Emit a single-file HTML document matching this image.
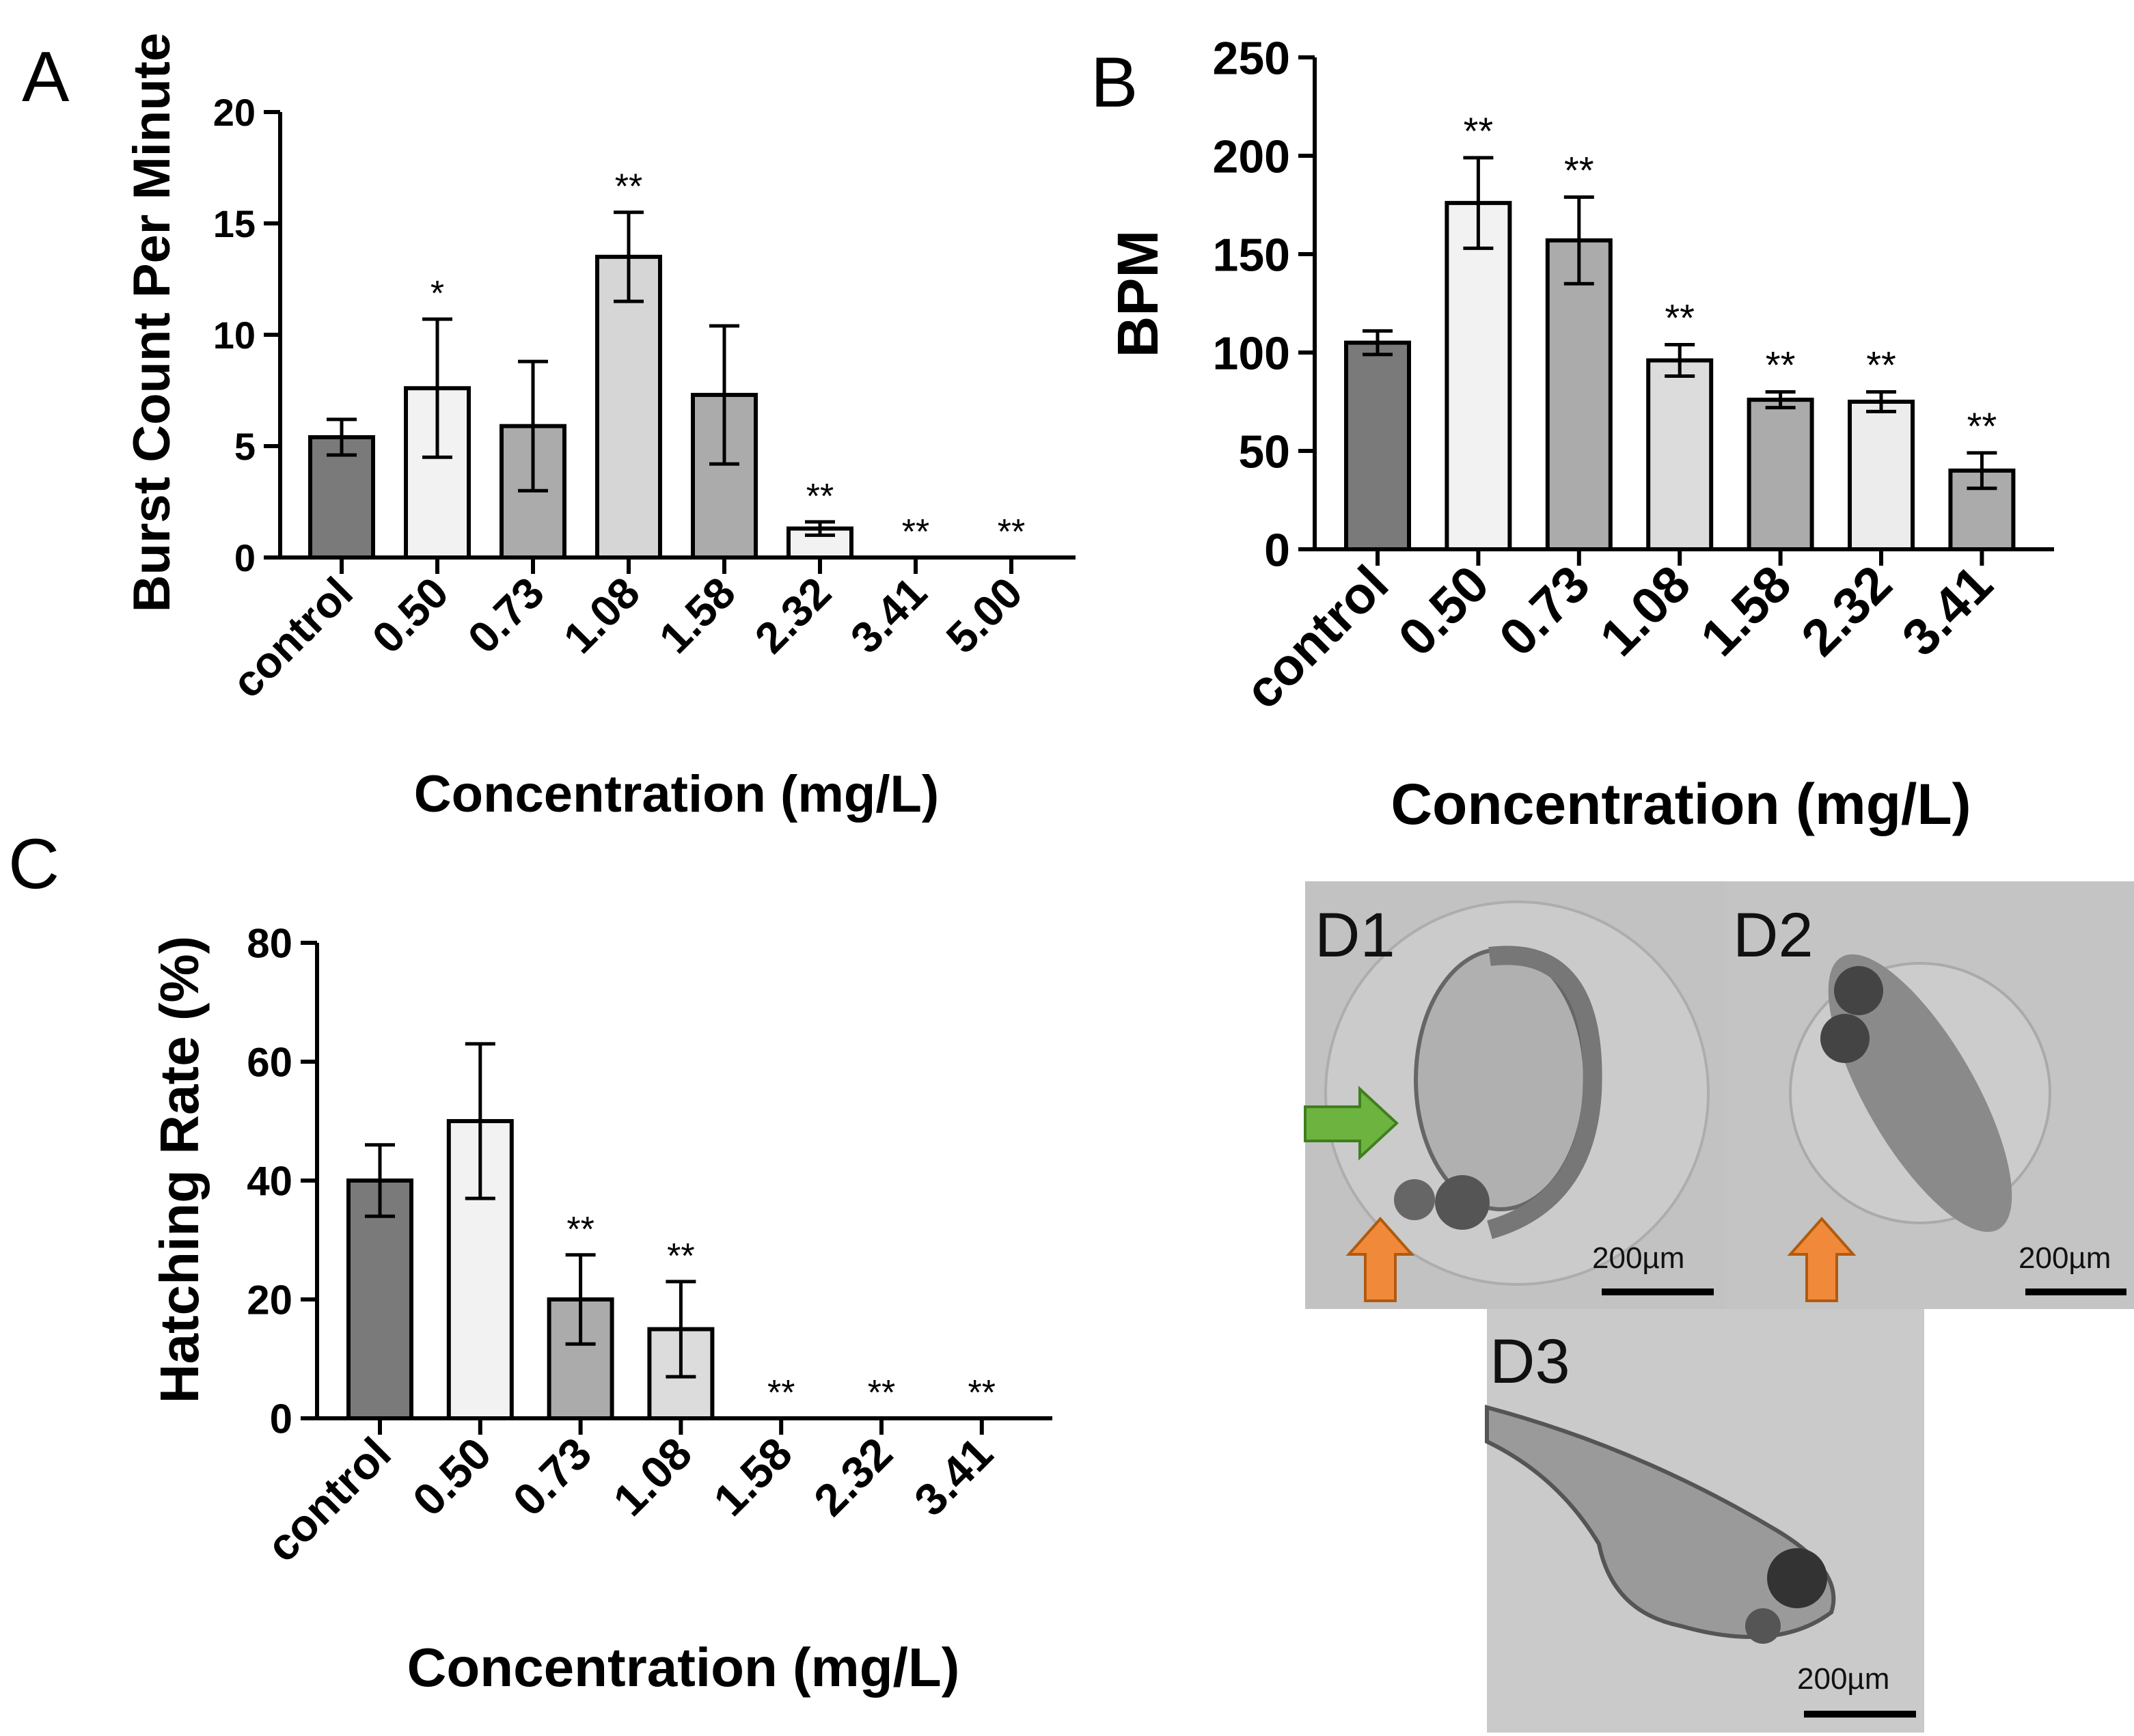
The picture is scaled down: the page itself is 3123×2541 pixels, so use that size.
<!DOCTYPE html>
<html><head><meta charset="utf-8"><style>
html,body{margin:0;padding:0;background:#fff}
svg{display:block;font-family:"Liberation Sans",Arial,sans-serif}
</style></head><body>
<svg id="fig" width="3123" height="2541" viewBox="0 0 1561.5 1270.5" xmlns="http://www.w3.org/2000/svg">
<rect width="1561.5" height="1270.5" fill="#fff"/>
<g id="pA"></g>
<g id="pB"></g>
<g id="pC"></g>
<g id="pD">
  <rect x="955" y="645" width="307" height="313" fill="#c2c2c2"/>
  <circle cx="1110" cy="800" r="140" fill="#cbcbcb" stroke="#adadad" stroke-width="2"/>
  <ellipse cx="1098" cy="790" rx="62" ry="95" fill="#b0b0b0" stroke="#666" stroke-width="3"/>
  <path d="M1090 700 Q1170 690 1165 800 Q1160 880 1090 900" fill="none" stroke="#777" stroke-width="14"/>
  <circle cx="1070" cy="880" r="20" fill="#555"/><circle cx="1035" cy="878" r="15" fill="#666"/>
  <rect x="1262" y="645" width="300" height="313" fill="#c4c4c4"/>
  <circle cx="1405" cy="800" r="95" fill="#cccccc" stroke="#aaa" stroke-width="2"/>
  <ellipse cx="1405" cy="800" rx="40" ry="115" fill="#8a8a8a" transform="rotate(-30 1405 800)"/>
  <circle cx="1360" cy="725" r="18" fill="#444"/><circle cx="1350" cy="760" r="18" fill="#444"/>
  <rect x="1088" y="958" width="320" height="310" fill="#cacaca"/>
  <path d="M1088 1030 Q1200 1060 1300 1120 Q1350 1150 1340 1180 Q1300 1210 1230 1190 Q1180 1180 1170 1130 Q1140 1080 1088 1055Z" fill="#9a9a9a" stroke="#555" stroke-width="3"/>
  <circle cx="1315" cy="1155" r="22" fill="#333"/><circle cx="1290" cy="1190" r="13" fill="#555"/>
  <polygon points="955,810 995,810 995,797 1022,822 995,847 995,835 955,835" fill="#6db33f" stroke="#3f7f1f" stroke-width="2"/>
  <polygon points="1010,892 1033,918 1021,918 1021,952 999,952 999,918 987,918" fill="#f08a3a" stroke="#b05a10" stroke-width="2"/>
  <polygon points="1333,892 1356,918 1344,918 1344,952 1322,952 1322,918 1310,918" fill="#f08a3a" stroke="#b05a10" stroke-width="2"/>
  <g font-size="46" fill="#111">
    <text x="962" y="700">D1</text>
    <text x="1268" y="700">D2</text>
    <text x="1090" y="1012">D3</text>
  </g>
  <g font-size="22" fill="#111">
    <text x="1165" y="928">200µm</text>
    <text x="1477" y="928">200µm</text>
    <text x="1315" y="1236">200µm</text>
  </g>
  <rect x="1172" y="943" width="82" height="5" fill="#000"/>
  <rect x="1482" y="943" width="74" height="5" fill="#000"/>
  <rect x="1320" y="1252" width="82" height="5" fill="#000"/>
</g>
</svg>
<script>
const catsA=['control','0.50','0.73','1.08','1.58','2.32','3.41','5.00'];
const valsA=[5.4,7.6,5.9,13.5,7.3,1.3,0,0];
const errsA=[0.8,3.1,2.9,2.0,3.1,0.3,0,0];
const starsA=['','*','','**','','**','**','**'];
const ticksA=[0,5,10,15,20];
const catsB=['control','0.50','0.73','1.08','1.58','2.32','3.41'];
const valsB=[105,176,157,96,76,75,40];
const errsB=[6,23,22,8,4,5,9];
const starsB=['','**','**','**','**','**','**'];
const ticksB=[0,50,100,150,200,250];
const catsC=['control','0.50','0.73','1.08','1.58','2.32','3.41'];
const valsC=[40,50,20,15,0,0,0];
const errsC=[6,13,7.5,8,0,0,0];
const starsC=['','','**','**','**','**','**'];
const ticksC=[0,20,40,60,80];

const NS='http://www.w3.org/2000/svg';
function mk(p,tag,attrs,txt){const e=document.createElementNS(NS,tag);for(const k in attrs)e.setAttribute(k,attrs[k]);if(txt!==undefined)e.textContent=txt;p.appendChild(e);return e;}
function chart(g,o){
  const y=v=>o.y0-(v-o.min)/(o.max-o.min)*(o.y0-o.y1);
  const x=i=>o.xs+i*o.step;
  o.vals.forEach((v,i)=>{
    const cx=x(i);
    if(v>0){const r=mk(g,'rect',{x:cx-o.bw/2,y:y(v),width:o.bw,height:o.y0-y(v),fill:o.colors[i%o.colors.length],stroke:'#000','stroke-width':3});
      
      }
    if(o.errs[i]>0){const eg=mk(g,'g',{stroke:'#000','stroke-width':2.5,fill:'none'});
      
      
      const t=y(v+o.errs[i]),b=y(v-o.errs[i]);
      mk(eg,'line',{x1:cx,x2:cx,y1:t,y2:b});mk(eg,'line',{x1:cx-11,x2:cx+11,y1:t,y2:t});mk(eg,'line',{x1:cx-11,x2:cx+11,y1:b,y2:b});}
    if(o.stars[i]){const s=mk(g,'text',{x:cx,y:y(v+o.errs[i])-10,'text-anchor':'middle','font-size':o.sf},o.stars[i]);
      
      }
    const tk=mk(g,'line',{x1:cx,x2:cx,y1:o.y0,y2:o.y0+12,stroke:'#000','stroke-width':3});
    
    
    const tl=mk(g,'text',{x:cx+10,y:o.y0+28,'text-anchor':'end','font-size':o.tf,'font-weight':'bold',transform:`rotate(-45 ${cx+10} ${o.y0+28})`},o.cats[i]);
    
    
  });
  o.ticks.forEach(t=>{
    const l=mk(g,'line',{x1:o.xa-12,x2:o.xa,y1:y(t),y2:y(t),stroke:'#000','stroke-width':3});
    
    
    const tt=mk(g,'text',{x:o.xa-18,y:y(t)+o.yf*0.36,'text-anchor':'end','font-size':o.yf,'font-weight':'bold'},t);
    
    
  });
  const ya=mk(g,'line',{x1:o.xa,x2:o.xa,y1:o.y1,y2:o.y0+1.5,stroke:'#000','stroke-width':3});
  
  
  const xa=mk(g,'line',{x1:o.xa,x2:o.xe,y1:o.y0,y2:o.y0,stroke:'#000','stroke-width':3});
  
  
  const yt=mk(g,'text',{x:o.ytx,y:o.yty,'text-anchor':'middle','font-size':o.ytf,'font-weight':'bold',transform:`rotate(-90 ${o.ytx} ${o.yty})`},o.ytitle);
  
  
  const xt=mk(g,'text',{x:o.xtx,y:o.xty,'text-anchor':'middle','font-size':o.xtf,'font-weight':'bold'},'Concentration (mg/L)');
  
  
  const pl=mk(g,'text',{x:o.lx,y:o.ly,'font-size':52},o.letter);
  
  
}
chart(document.getElementById('pA'),{cats:catsA,vals:valsA,errs:errsA,stars:starsA,ticks:ticksA,min:0,max:20,
  y0:408,y1:82,xa:205,xe:787,xs:250,step:70,bw:46,colors:['#7a7a7a','#f2f2f2','#ababab','#d6d6d6','#ababab','#f2f2f2','#ababab','#ababab'],
  tf:32,yf:28,sf:26,ytf:38,xtf:38,
  ytitle:'Burst Count Per Minute',ytx:124,yty:236,xtx:495,xty:594,letter:'A',lx:16,ly:74});
chart(document.getElementById('pB'),{cats:catsB,vals:valsB,errs:errsB,stars:starsB,ticks:ticksB,min:0,max:250,
  y0:402,y1:42,xa:962,xe:1503,xs:1008,step:73.7,bw:46,colors:['#7a7a7a','#f2f2f2','#ababab','#dcdcdc','#ababab','#ececec','#ababab'],
  tf:38,yf:34,sf:28,ytf:42,xtf:42,
  ytitle:'BPM',ytx:847,yty:215,xtx:1230,xty:603,letter:'B',lx:798,ly:78});
chart(document.getElementById('pC'),{cats:catsC,vals:valsC,errs:errsC,stars:starsC,ticks:ticksC,min:0,max:80,
  y0:1038,y1:690,xa:232,xe:770,xs:278,step:73.4,bw:46,colors:['#7a7a7a','#f2f2f2','#ababab','#dcdcdc','#ababab','#ababab','#ababab'],
  tf:33,yf:30,sf:26,ytf:40,xtf:40,
  ytitle:'Hatching Rate (%)',ytx:145,yty:856,xtx:500,xty:1234,letter:'C',lx:6,ly:650});
</script>
</body></html>
